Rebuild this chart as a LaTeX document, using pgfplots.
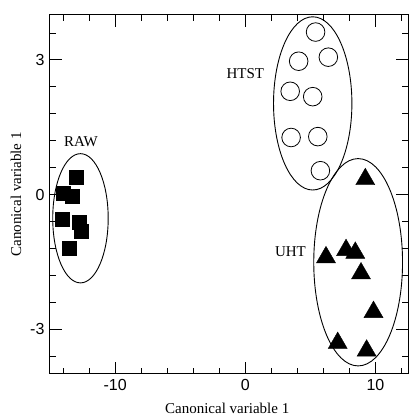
\documentclass[border=0pt]{standalone}
\usepackage{pgfplots}
\pgfplotsset{compat=1.18}
\usepackage{fontspec}
\setmainfont{Liberation Serif}
\newfontfamily\tickfont{Liberation Sans}
\begin{document}
\begin{tikzpicture}
\begin{axis}[
  scale only axis,
  width=358pt, height=359pt,
  xmin=-15, xmax=12.5, ymin=-4, ymax=4,
  xtick={-10,0,10}, ytick={-3,0,3},
  minor xtick={-14,-12,...,12},
  minor ytick={-3.6,-3,...,3.6},
  tick align=inside,
  major tick length=12pt, minor tick length=6pt,
  tick style={black, line width=0.8pt},
  axis line style={line width=1pt},
  /pgf/number format/assume math mode=true,
  tick label style={font=\tickfont\fontsize{16}{16}\selectfont},
  xticklabel style={yshift=-2pt},
  yticklabel style={xshift=-2pt},
  clip=false,
]
% RAW
\addplot[only marks, mark=square*, mark size=7pt, mark options={fill=black, draw=black}] coordinates {
 (-13.26,-0.04) (-13.0,0.38) (-14.0,0.03) (-12.57,-0.82) (-14.05,-0.54) (-12.75,-0.61) (-13.5,-1.19)
};
% HTST
\addplot[only marks, mark=o, mark size=9.3pt, mark options={draw=black, line width=0.8pt, fill=white}] coordinates {
 (5.4,3.62) (4.1,2.97) (6.38,3.06) (3.45,2.30) (5.18,2.18) (3.52,1.27) (5.57,1.29) (5.77,0.53)
};
% UHT
\addplot[only marks, mark=triangle*, mark size=11pt, mark options={fill=black, draw=black}] coordinates {
 (9.22,0.34) (6.2,-1.40) (7.74,-1.24) (8.45,-1.30) (8.89,-1.76) (9.85,-2.62) (7.1,-3.31) (9.32,-3.48)
};
\draw[line width=0.9pt] (axis cs:-12.66,-0.53) ellipse [x radius=2.13, y radius=1.44];
\draw[line width=0.9pt] (axis cs:5.18,2.03) ellipse [x radius=3.01, y radius=1.93];
\draw[line width=0.9pt] (axis cs:8.67,-1.51) ellipse [x radius=3.41, y radius=2.31];
\node[font=\fontsize{15}{15}\selectfont] at (axis cs:-12.62,1.18) {RAW};
\node[font=\fontsize{15}{15}\selectfont] at (axis cs:0,2.7) {HTST};
\node[font=\fontsize{15}{15}\selectfont] at (axis cs:3.47,-1.27) {UHT};
\coordinate (ll) at (rel axis cs:0,0);
\coordinate (ur) at (rel axis cs:1,1);
\coordinate (xl) at (rel axis cs:0.495,0);
\coordinate (yl) at (rel axis cs:0,0.5);
\end{axis}
\node[font=\fontsize{15}{15}\selectfont] at ([yshift=-34pt]xl) {Canonical variable 1};
\node[font=\fontsize{15}{15}\selectfont, rotate=90] at ([xshift=-34pt]yl) {Canonical variable 1};
\pgfresetboundingbox
\path ([xshift=-50pt,yshift=-44pt]ll) rectangle ([xshift=2pt,yshift=15pt]ur);
\end{tikzpicture}
\end{document}
